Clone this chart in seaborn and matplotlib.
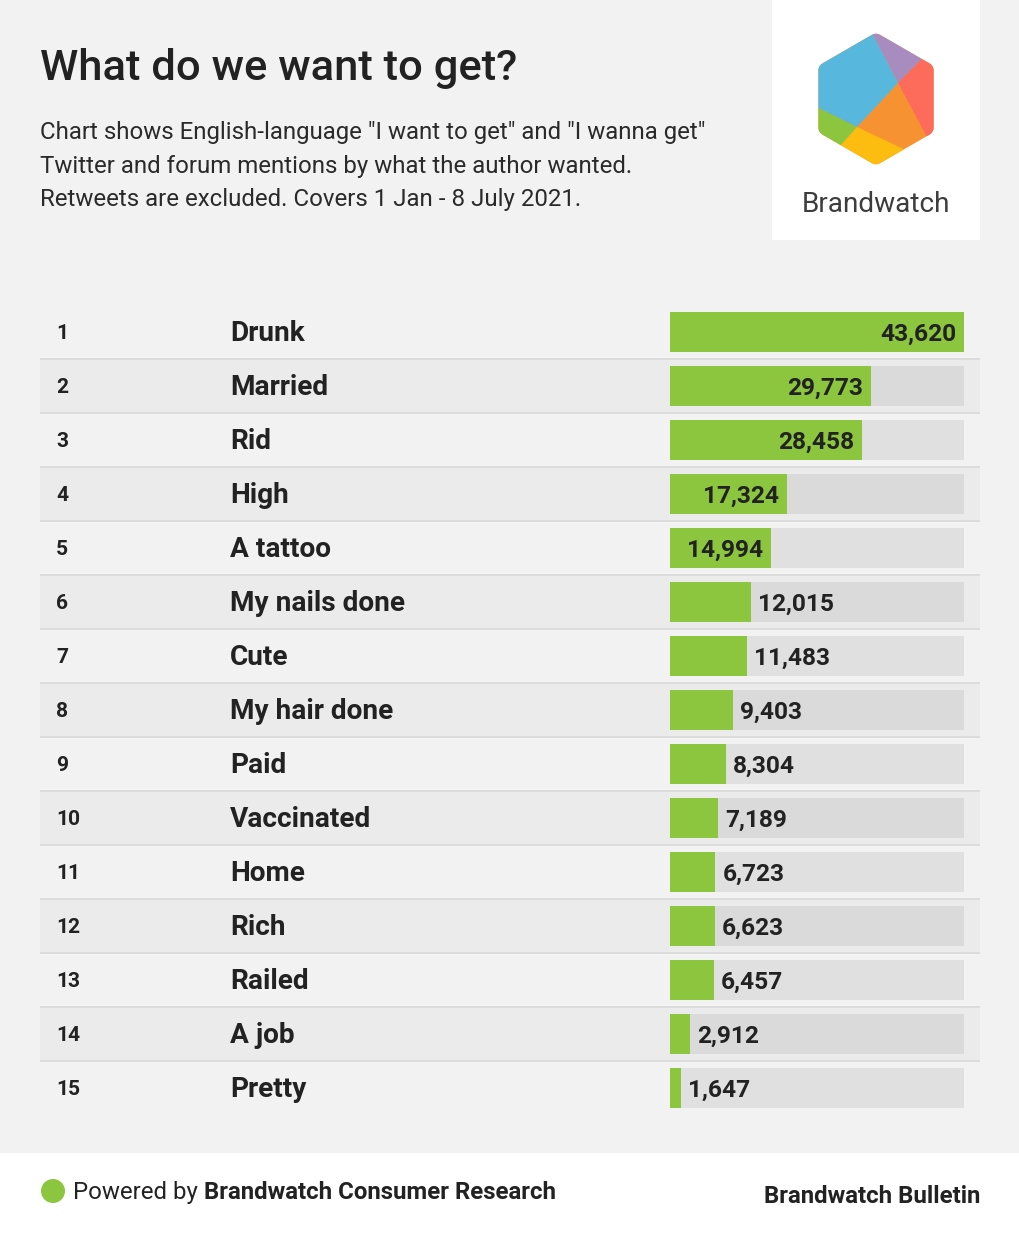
import matplotlib
matplotlib.use("Agg")
import matplotlib.pyplot as plt
import matplotlib.transforms as mtransforms
from matplotlib.patches import Polygon, Rectangle, Circle
import numpy as np
import pandas as pd
import seaborn as sns

# ---------------- data ----------------
ranks = list(range(1, 16))
categories = ["Drunk", "Married", "Rid", "High", "A tattoo", "My nails done", "Cute",
              "My hair done", "Paid", "Vaccinated", "Home", "Rich", "Railed", "A job", "Pretty"]
mentions = [43620, 29773, 28458, 17324, 14994, 12015, 11483, 9403, 8304, 7189,
            6723, 6623, 6457, 2912, 1647]

title = "What do we want to get?"
subtitle_lines = ['Chart shows English-language "I want to get" and "I wanna get"',
                  'Twitter and forum mentions by what the author wanted.',
                  'Retweets are excluded. Covers 1 Jan - 8 July 2021.']
footer_left_regular = "Powered by "
footer_left_bold = "Brandwatch Consumer Research"
footer_right = "Brandwatch Bulletin"
logo_word = "Brandwatch"

# ---------------- style ----------------
sns.set_theme(style="white")
plt.rcParams['font.family'] = ['Roboto', 'DejaVu Sans']

W, H = 1020, 1236
DPI = 100
BG = "#f2f2f2"
BAND = "#ebebeb"
SEP = "#dcdcdc"
GREEN = "#8cc63f"
TRACK_ODD = "#e0e0e0"
TRACK_EVEN = "#dadada"
TXT = "#222222"

def px(v):  # pixels -> points
    return v * 72 / DPI

fig = plt.figure(figsize=(W / DPI, H / DPI), dpi=DPI)
fig.patch.set_facecolor(BG)

# background / overlay axes in pixel coordinates
bg = fig.add_axes([0, 0, 1, 1], zorder=0)
bg.set_xlim(0, W)
bg.set_ylim(H, 0)
bg.axis("off")
bg.patch.set_alpha(0)

# footer white area
bg.add_patch(Rectangle((0, 1153), W, H - 1153, facecolor="white", edgecolor="none"))
# logo white box
bg.add_patch(Rectangle((772, 0), 208, 240, facecolor="white", edgecolor="none"))

# ---- logo hexagon ----
cx, cy, R, rr = 876, 99, 66.5, 8
a = R * np.cos(np.radians(30))
Rin = (a - rr) / np.cos(np.radians(30))
pts = []
for i in range(6):
    th = np.radians(-90 + 60 * i)  # pointy top (y down)
    vx, vy = cx + Rin * np.cos(th), cy + Rin * np.sin(th)
    for ang in np.linspace(th - np.radians(30), th + np.radians(30), 8):
        pts.append((vx + rr * np.cos(ang), vy + rr * np.sin(ang)))
hexpatch = Polygon(pts, closed=True, facecolor="#f79232", edgecolor="none", transform=bg.transData)
bg.add_patch(hexpatch)
J1 = (898, 83)
J2 = (857, 127)
pieces = [
    ([(860, 10), J1, (955, 26), (955, 10)], "#a88cbf"),
    ([J1, (955, 26), (975, 26), (975, 191), (956, 191)], "#fd6b5a"),
    ([(860, 10), J1, J2, (790, 94), (790, 10)], "#57b7dd"),
    ([(790, 94), J2, (801, 190), (790, 190)], "#8cc63f"),
    ([J2, (801, 190), (975, 190), (975, 183)], "#fdbd10"),
]
for poly, col in pieces:
    p = Polygon(poly, closed=True, facecolor=col, edgecolor="none")
    bg.add_patch(p)
    p.set_clip_path(hexpatch)
bg.text(876, 212, logo_word, ha="center", va="baseline", fontsize=px(28),
        color="#3d3d3d", fontweight="normal")

# ---- title & subtitle ----
bg.text(40, 80, title, ha="left", va="baseline", fontsize=px(43.5), fontweight=500, color=TXT)
for j, line in enumerate(subtitle_lines):
    bg.text(40, 139 + 33.5 * j, line, ha="left", va="baseline", fontsize=px(24),
            color="#2a2a2a", fontweight="normal")

# ---- footer ----
bg.add_patch(Circle((53, 1191), 12, facecolor=GREEN, edgecolor="none"))
t1 = bg.text(73, 1199, footer_left_regular, ha="left", va="baseline", fontsize=px(24),
             color=TXT, fontweight="normal")
fig.canvas.draw()
renderer = fig.canvas.get_renderer()
bb = t1.get_window_extent(renderer)
x_end = bg.transData.inverted().transform((bb.x1, bb.y0))[0]
bg.text(x_end, 1199, footer_left_bold, ha="left", va="baseline", fontsize=px(24),
        color=TXT, fontweight="bold")
bg.text(980, 1203, footer_right, ha="right", va="baseline", fontsize=px(24),
        color=TXT, fontweight="bold")

# ---------------- table axes ----------------
row_top, row_bot = 305, 1115
left_px, right_px = 40, 980
bar0_px, bar1_px = 670, 964
ax = fig.add_axes([left_px / W, (H - row_bot) / H, (right_px - left_px) / W, (row_bot - row_top) / H],
                  zorder=1)
ax.patch.set_alpha(0)

n = len(categories)
xmax_val = max(mentions)
k = xmax_val / (bar1_px - bar0_px)  # data units per pixel
row_px = (row_bot - row_top) / n

# row bands and separators
for i in range(n):
    if i % 2 == 1:
        ax.axhspan(i - 0.5, i + 0.5, color=BAND, zorder=0, lw=0)
for i in range(1, n):
    ax.axhline(i - 0.5, color=SEP, lw=px(2), zorder=0.5)

df = pd.DataFrame({"category": categories, "mentions": mentions,
                   "track": [xmax_val] * n})
track_pal = [TRACK_EVEN if i % 2 == 1 else TRACK_ODD for i in range(n)]
sns.barplot(data=df, x="track", y="category", hue="category", palette=track_pal,
            orient="h", width=40 / row_px, ax=ax, legend=False, saturation=1, zorder=1,
            linewidth=0, edgecolor="none")
sns.barplot(data=df, x="mentions", y="category", color=GREEN, orient="h",
            width=40 / row_px, ax=ax, saturation=1, zorder=2,
            linewidth=0, edgecolor="none")

ax.set_xlim(-(bar0_px - left_px) * k, (right_px - bar0_px) * k)
ax.set_ylim(n - 0.5, -0.5)
ax.axis("off")

blend = mtransforms.blended_transform_factory(ax.transAxes, ax.transData)
fig.canvas.draw()
renderer = fig.canvas.get_renderer()
for i, (r, c, v) in enumerate(zip(ranks, categories, mentions)):
    ax.text((56 - left_px) / (right_px - left_px), i + 7.2 / row_px, str(r), transform=blend,
            ha="left", va="baseline", fontsize=px(21), fontweight="bold", color=TXT)
    ax.text((230 - left_px) / (right_px - left_px), i + 9.3 / row_px, c, transform=blend,
            ha="left", va="baseline", fontsize=px(28), fontweight="bold", color=TXT)
    lab = f"{v:,}"
    t = ax.text(0, 0, lab, fontsize=px(24.5), fontweight="bold")
    tw = t.get_window_extent(renderer).width
    t.remove()
    bar_w_px = v / k
    if bar_w_px >= tw + 16:
        ax.text(v - 7.5 * k, i + 8.7 / row_px, lab, ha="right", va="baseline",
                fontsize=px(24.5), fontweight="bold", color=TXT, zorder=5)
    else:
        ax.text(v + 7 * k, i + 8.7 / row_px, lab, ha="left", va="baseline",
                fontsize=px(24.5), fontweight="bold", color=TXT, zorder=5)

fig.savefig("out.png", dpi=DPI, facecolor=fig.get_facecolor())
